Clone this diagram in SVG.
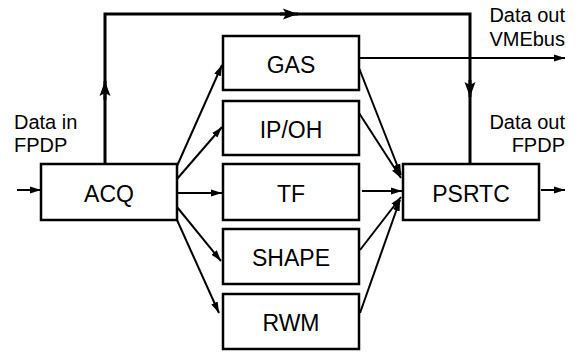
<svg xmlns="http://www.w3.org/2000/svg" width="578" height="352" viewBox="0 0 578 352">
<style>
.box{fill:#fff;stroke:#000;stroke-width:2.5}
.t{font-family:"Liberation Sans",Arial,sans-serif;font-size:23px;fill:#000;text-anchor:middle}
.lbl{font-family:"Liberation Sans",Arial,sans-serif;font-size:20px;fill:#000}
.c{fill:none;stroke:#000;stroke-width:2}
.k{fill:none;stroke:#000;stroke-width:3}
</style>
<defs>
<marker id="a" markerUnits="userSpaceOnUse" markerWidth="12" markerHeight="8" refX="11" refY="4" orient="auto"><path d="M0,0.5 L11,4 L0,7.5 Z" fill="#000"/></marker>
<marker id="b" markerUnits="userSpaceOnUse" markerWidth="16" markerHeight="12" refX="15" refY="6" orient="auto"><path d="M0,0.5 L15,6 L0,11.5 L3,6 Z" fill="#000"/></marker>
</defs>
<g id="connectors">
<path class="c" d="M17,190 L41,190" marker-end="url(#a)"/>
<path class="c" d="M541,190 L565,190" marker-end="url(#a)"/>
<path class="c" d="M177,166 L222,65" marker-end="url(#a)"/>
<path class="c" d="M177,179 L222,127" marker-end="url(#a)"/>
<path class="c" d="M177,193 L222,193" marker-end="url(#a)"/>
<path class="c" d="M177,207 L221,261" marker-end="url(#a)"/>
<path class="c" d="M177,220 L219,313" marker-end="url(#a)"/>
<path class="c" d="M359,68 L401,175" marker-end="url(#a)"/>
<path class="c" d="M359,113 L401,178" marker-end="url(#a)"/>
<path class="c" d="M362,191 L402,191" marker-end="url(#a)"/>
<path class="c" d="M360,250 L401,197" marker-end="url(#a)"/>
<path class="c" d="M360,313 L400,200" marker-end="url(#a)"/>
<path class="c" d="M359,58 L565,58" marker-end="url(#a)"/>
<path class="k" d="M105,164 L105,14 L470,14 L470,164"/>
<path class="k" d="M105,100 L105,81" marker-end="url(#b)"/>
<path class="k" d="M280,14 L298,14" marker-end="url(#b)"/>
<path class="k" d="M470,80 L470,97" marker-end="url(#b)"/>
</g>
<g id="ACQ"><rect class="box" x="41" y="164" width="136" height="56"/><text class="t" x="109" y="202">ACQ</text></g>
<g id="GAS"><rect class="box" x="223" y="36" width="136" height="54"/><text class="t" x="291" y="73">GAS</text></g>
<g id="IPOH"><rect class="box" x="223" y="101" width="136" height="54"/><text class="t" x="291" y="138">IP/OH</text></g>
<g id="TF"><rect class="box" x="223" y="164" width="136" height="56"/><text class="t" x="291" y="202">TF</text></g>
<g id="SHAPE"><rect class="box" x="223" y="229" width="136" height="55"/><text class="t" x="291" y="266">SHAPE</text></g>
<g id="RWM"><rect class="box" x="223" y="294" width="136" height="55"/><text class="t" x="291" y="331">RWM</text></g>
<g id="PSRTC"><rect class="box" x="403" y="164" width="136" height="56"/><text class="t" x="471" y="202">PSRTC</text></g>
<g id="labels">
<text class="lbl" x="14" y="129">Data in</text>
<text class="lbl" x="14" y="152">FPDP</text>
<text class="lbl" x="565" y="22" text-anchor="end">Data out</text>
<text class="lbl" x="565" y="46" text-anchor="end">VMEbus</text>
<text class="lbl" x="565" y="129" text-anchor="end">Data out</text>
<text class="lbl" x="565" y="152" text-anchor="end">FPDP</text>
</g>
</svg>
